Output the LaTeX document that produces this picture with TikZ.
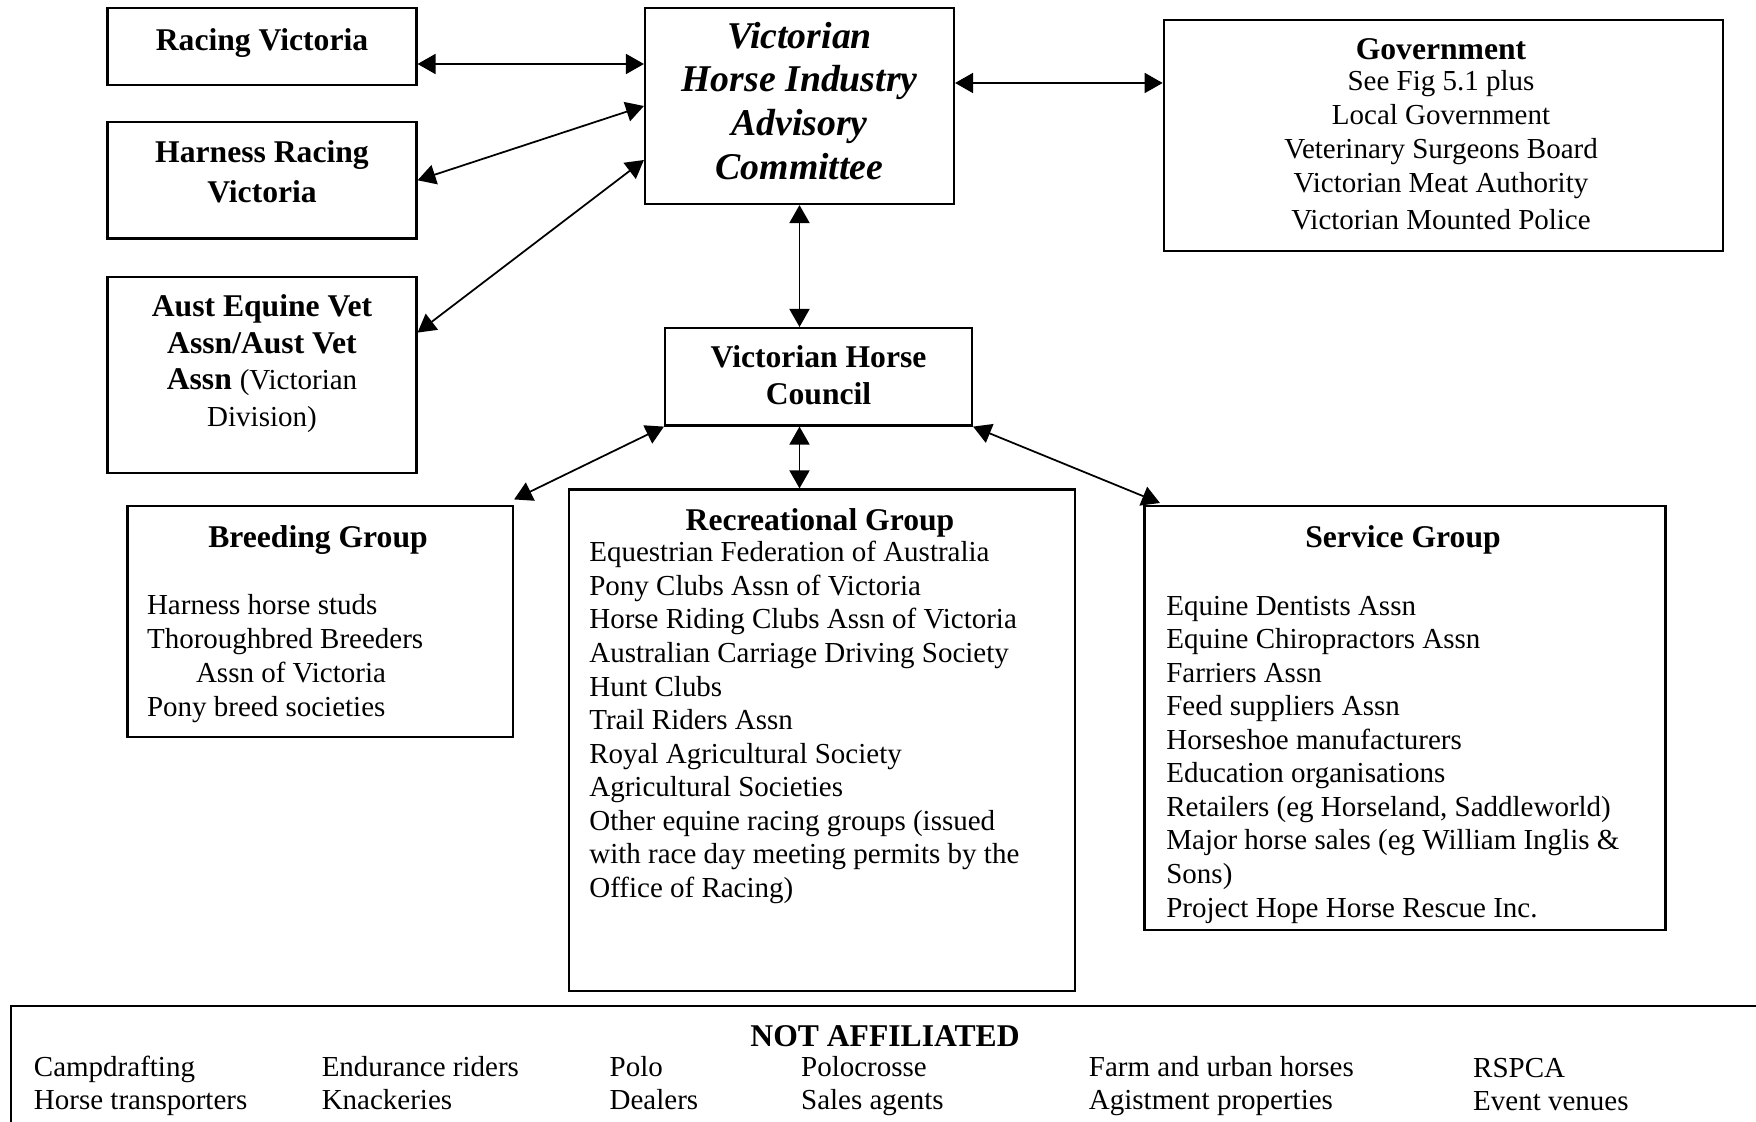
\documentclass[tikz,border=0pt]{standalone}
\usepackage{fontspec}
\setmainfont{Liberation Serif}
\usetikzlibrary{arrows.meta}

\begin{document}
\begin{tikzpicture}[x=0.2mm, y=-0.2mm,
    box/.style={rectangle, draw, line width=1.2pt, inner sep=0pt},
    link/.style={{Triangle[length=3.6mm,width=4mm]}-{Triangle[length=3.6mm,width=4mm]}, line width=1pt},
    title/.style={font=\fontsize{18}{21}\selectfont\bfseries, align=center, inner sep=0pt},
    body/.style={font=\fontsize{16.5}{19.1}\selectfont, align=left, inner sep=0pt,
      execute at begin node=\strut, execute at end node=\strut}]
\useasboundingbox (0,0) rectangle (1756,1122);
\clip (0,0) rectangle (1756,1122);

% left column
\node[box, minimum width=61.8mm, minimum height=15.4mm] (rv) at (262,46.4) {};
\node[title] (rv-txt) at (262,43.4) {Racing Victoria};
\node[box, minimum width=61.8mm, minimum height=23.3mm] (hrv) at (262,180.3) {};
\node[title, font=\fontsize{18}{22.7}\selectfont\bfseries] (hrv-txt) at (262,172) {Harness Racing\\Victoria};
\node[box, minimum width=61.8mm, minimum height=39.2mm] (aev) at (262,374.6) {};
\node[title] (aev-txt) at (262,363.6) {Aust Equine Vet\\Assn/Aust Vet\\Assn {\mdseries\fontsize{16.5}{21}\selectfont (Victorian}\\{\mdseries\fontsize{16.5}{21}\selectfont Division)}};

% committee and government
\node[box, minimum width=61.8mm, minimum height=39.2mm] (vhiac) at (799.5,106) {};
\node[title, font=\fontsize{21.5}{25}\selectfont\bfseries\itshape] (vhiac-txt) at (799.5,101) {Victorian\\Horse Industry\\Advisory\\Committee};
\node[box, minimum width=111.8mm, minimum height=46.2mm] (gov) at (1443.2,135.5) {};
\node[title] (gov-hd) at (1441,49.5) {Government};
\node[body, align=center, font=\fontsize{16.5}{19.4}\selectfont, execute at begin node={}, execute at end node={}] (gov-txt) at (1441,155) {See Fig 5.1 plus\\Local Government\\Veterinary Surgeons Board\\Victorian Meat Authority\\[1.9pt]Victorian Mounted Police};

% council
\node[box, minimum width=61.4mm, minimum height=19.5mm] (vhc) at (818.5,376.8) {};
\node[title] (vhc-txt) at (818.5,375.5) {Victorian Horse\\Council};

% groups
\node[box, minimum width=77.1mm, minimum height=46.2mm] (breed) at (320.3,621.5) {};
\node[title] (breed-hd) at (318,540) {Breeding Group};
\node[body, anchor=west, font=\fontsize{16.5}{19.3}\selectfont] (breed-txt) at (146.7,660.5) {Harness horse studs\\Thoroughbred Breeders\\\hspace*{9.8mm}Assn of Victoria\\Pony breed societies};

\node[box, minimum width=101.2mm, minimum height=100.3mm] (rec) at (822,740.2) {};
\node[title] (rec-hd) at (820,523) {Recreational Group};
\node[body, anchor=west] (rec-txt) at (589,724.4) {Equestrian Federation of Australia\\Pony Clubs Assn of Victoria\\Horse Riding Clubs Assn of Victoria\\Australian Carriage Driving Society\\Hunt Clubs\\Trail Riders Assn\\Royal Agricultural Society\\Agricultural Societies\\Other equine racing groups (issued\\with race day meeting permits by the\\Office of Racing)};

\node[box, minimum width=104.2mm, minimum height=84.7mm] (serv) at (1405,717.8) {};
\node[title] (serv-hd) at (1403,540) {Service Group};
\node[body, anchor=west] (serv-txt) at (1166,761.5) {Equine Dentists Assn\\Equine Chiropractors Assn\\Farriers Assn\\Feed suppliers Assn\\Horseshoe manufacturers\\Education organisations\\Retailers (eg Horseland, Saddleworld)\\Major horse sales (eg William Inglis \&\\Sons)\\Project Hope Horse Rescue Inc.};

% not affiliated
\node[box, minimum width=349.6mm, minimum height=40mm] (notaff) at (885,1105.8) {};
\node[title] (notaff-hd) at (885,1036) {NOT AFFILIATED};
\node[body, anchor=west] (na1) at (33.6,1088) {Campdrafting\\Horse transporters};
\node[body, anchor=west] (na2) at (321.4,1088) {Endurance riders\\Knackeries};
\node[body, anchor=west] (na3) at (609.3,1088) {Polo\\Dealers};
\node[body, anchor=west] (na4) at (800.8,1088) {Polocrosse\\Sales agents};
\node[body, anchor=west] (na5) at (1088.6,1088) {Farm and urban horses\\Agistment properties};
\node[body, anchor=west] (na6) at (1472.8,1089.5) {RSPCA\\Event venues};

% links
\draw[link] ([yshift=-3.52mm]rv.east) -- ([yshift=8.4mm]vhiac.west);
\draw[link] (hrv.east) -- (vhiac.west);
\draw[link] ([yshift=8.4mm]aev.east) -- ([yshift=-10.8mm]vhiac.west);
\draw[link] ([yshift=4.6mm]vhiac.east) -- ([yshift=10.5mm]gov.west);
\draw[link] (vhiac.south) -- (vhiac.south |- vhc.north);
\draw[link] (vhc.south west) -- ([yshift=1.1mm]breed.north east);
\draw[link] (vhiac.south |- vhc.south) -- (vhiac.south |- rec.north);
\draw[link] (vhc.south east) -- ([xshift=3.3mm,yshift=0.4mm]serv.north west);
\end{tikzpicture}
\end{document}
